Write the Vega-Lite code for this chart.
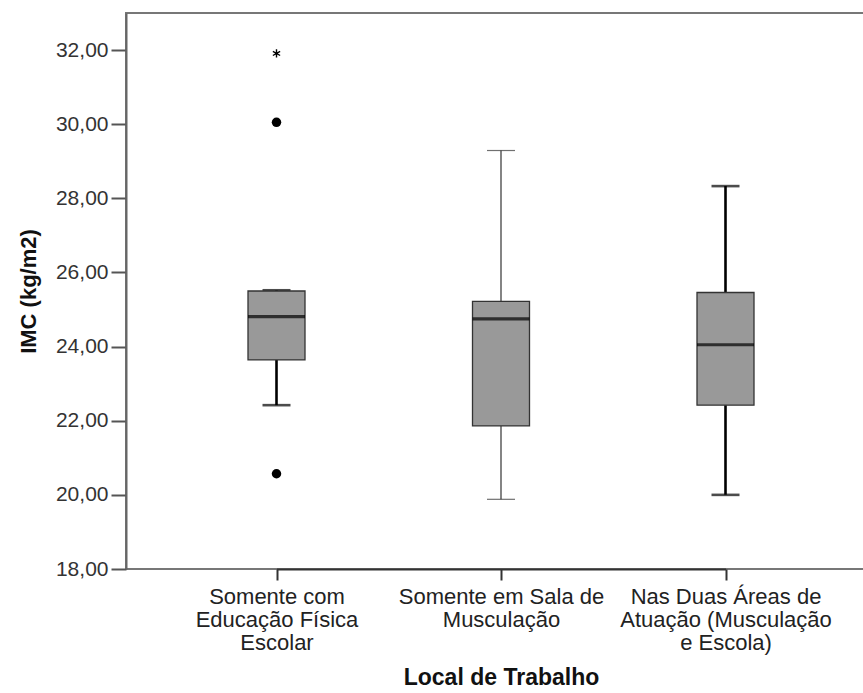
{
  "$schema": "https://vega.github.io/schema/vega-lite/v6.json",
  "width": 745,
  "height": 556,
  "autosize": {"type": "none"},
  "padding": {"left": 126, "top": 13, "right": 0, "bottom": 124},
  "background": "white",
  "config": {
    "view": {"stroke": "#777777", "strokeWidth": 2},
    "font": "Liberation Sans"
  },
  "datasets": {
    "stats": [
      {"cat": "Somente com|Educação Física|Escolar", "lo": 22.42, "q1": 23.64, "med": 24.81, "q3": 25.5, "hi": 25.52},
      {"cat": "Somente em Sala de|Musculação", "lo": 19.88, "q1": 21.86, "med": 24.75, "q3": 25.22, "hi": 29.29},
      {"cat": "Nas Duas Áreas de|Atuação (Musculação|e Escola)", "lo": 20.0, "q1": 22.42, "med": 24.05, "q3": 25.46, "hi": 28.33}
    ],
    "outliers": [
      {"cat": "Somente com|Educação Física|Escolar", "value": 30.05, "kind": "outlier"},
      {"cat": "Somente com|Educação Física|Escolar", "value": 20.57, "kind": "outlier"},
      {"cat": "Somente com|Educação Física|Escolar", "value": 31.91, "kind": "extreme"}
    ]
  },
  "encoding": {
    "x": {
      "field": "cat",
      "type": "nominal",
      "sort": null,
      "scale": {
        "type": "point",
        "padding": 0,
        "domain": ["Somente com|Educação Física|Escolar", "Somente em Sala de|Musculação", "Nas Duas Áreas de|Atuação (Musculação|e Escola)"],
        "range": [150.5, 599.5]
      },
      "axis": {
        "title": "Local de Trabalho",
        "titleFont": "Liberation Sans",
        "titleFontSize": 23,
        "titleFontWeight": "bold",
        "titleColor": "#111111",
        "titleX": 375,
        "titlePadding": 13,
        "labelExpr": "split(datum.label, '|')",
        "labelAngle": 0,
        "labelFont": "Liberation Sans",
        "labelFontSize": 22,
        "labelLineHeight": 23,
        "labelColor": "#222222",
        "labelPadding": 6,
        "labelLimit": 400,
        "labelOverlap": false,
        "tickSize": 11,
        "tickWidth": 2,
        "tickColor": "#333333",
        "domainColor": "#333333",
        "domainWidth": 2,
        "grid": false
      }
    }
  },
  "layer": [
    {
      "data": {"name": "stats"},
      "mark": {"type": "rule"},
      "encoding": {
        "y": {
          "field": "lo",
          "type": "quantitative",
          "scale": {"domain": [18, 33], "nice": false, "zero": false},
          "axis": {
            "title": "IMC (kg/m2)",
            "titleFont": "Liberation Sans",
            "titleFontSize": 22,
            "titleFontWeight": "bold",
            "titleColor": "#111111",
            "titlePadding": 15,
            "values": [18, 20, 22, 24, 26, 28, 30, 32],
            "labelExpr": "replace(format(datum.value, '.2f'), '.', ',')",
            "labelFont": "Liberation Sans",
            "labelFontSize": 21,
            "labelColor": "#333333",
            "labelPadding": 3,
            "tickSize": 15,
            "tickWidth": 2,
            "tickColor": "#555555",
            "domainColor": "#666666",
            "domainWidth": 2,
            "grid": false
          }
        },
        "y2": {"field": "hi"},
        "color": {
          "condition": {"test": "datum.cat === 'Somente em Sala de|Musculação'", "value": "#333333"},
          "value": "#000000"
        },
        "strokeWidth": {
          "condition": {"test": "datum.cat === 'Somente em Sala de|Musculação'", "value": 1.2},
          "value": 2.6
        }
      }
    },
    {
      "data": {"name": "stats"},
      "transform": [{"filter": "datum.cat !== 'Somente em Sala de|Musculação'"}, {"fold": ["lo", "hi"], "as": ["which", "v"]}],
      "mark": {"type": "tick", "size": 28, "thickness": 2.6, "color": "#000000"},
      "encoding": {"y": {"field": "v", "type": "quantitative"}}
    },
    {
      "data": {"name": "stats"},
      "transform": [{"filter": "datum.cat === 'Somente em Sala de|Musculação'"}, {"fold": ["lo", "hi"], "as": ["which", "v"]}],
      "mark": {"type": "tick", "size": 28, "thickness": 1.2, "color": "#333333"},
      "encoding": {"y": {"field": "v", "type": "quantitative"}}
    },
    {
      "data": {"name": "stats"},
      "mark": {"type": "bar", "size": 57, "fill": "#999999", "stroke": "#333333", "strokeWidth": 1.3},
      "encoding": {
        "y": {"field": "q1", "type": "quantitative"},
        "y2": {"field": "q3"}
      }
    },
    {
      "data": {"name": "stats"},
      "mark": {"type": "tick", "size": 57, "thickness": 3.2, "color": "#000000"},
      "encoding": {"y": {"field": "med", "type": "quantitative"}}
    },
    {
      "data": {"name": "outliers"},
      "transform": [{"filter": "datum.kind === 'outlier'"}],
      "mark": {"type": "point", "shape": "circle", "filled": true, "size": 90, "color": "#000000", "opacity": 1},
      "encoding": {"y": {"field": "value", "type": "quantitative"}}
    },
    {
      "data": {"name": "outliers"},
      "transform": [{"filter": "datum.kind === 'extreme'"}],
      "mark": {
        "type": "point",
        "shape": "M0,-1L0,1M-0.87,-0.5L0.87,0.5M-0.87,0.5L0.87,-0.5",
        "filled": false,
        "size": 70,
        "stroke": "#000000",
        "strokeWidth": 1.4,
        "opacity": 1
      },
      "encoding": {"y": {"field": "value", "type": "quantitative"}}
    }
  ]
}
